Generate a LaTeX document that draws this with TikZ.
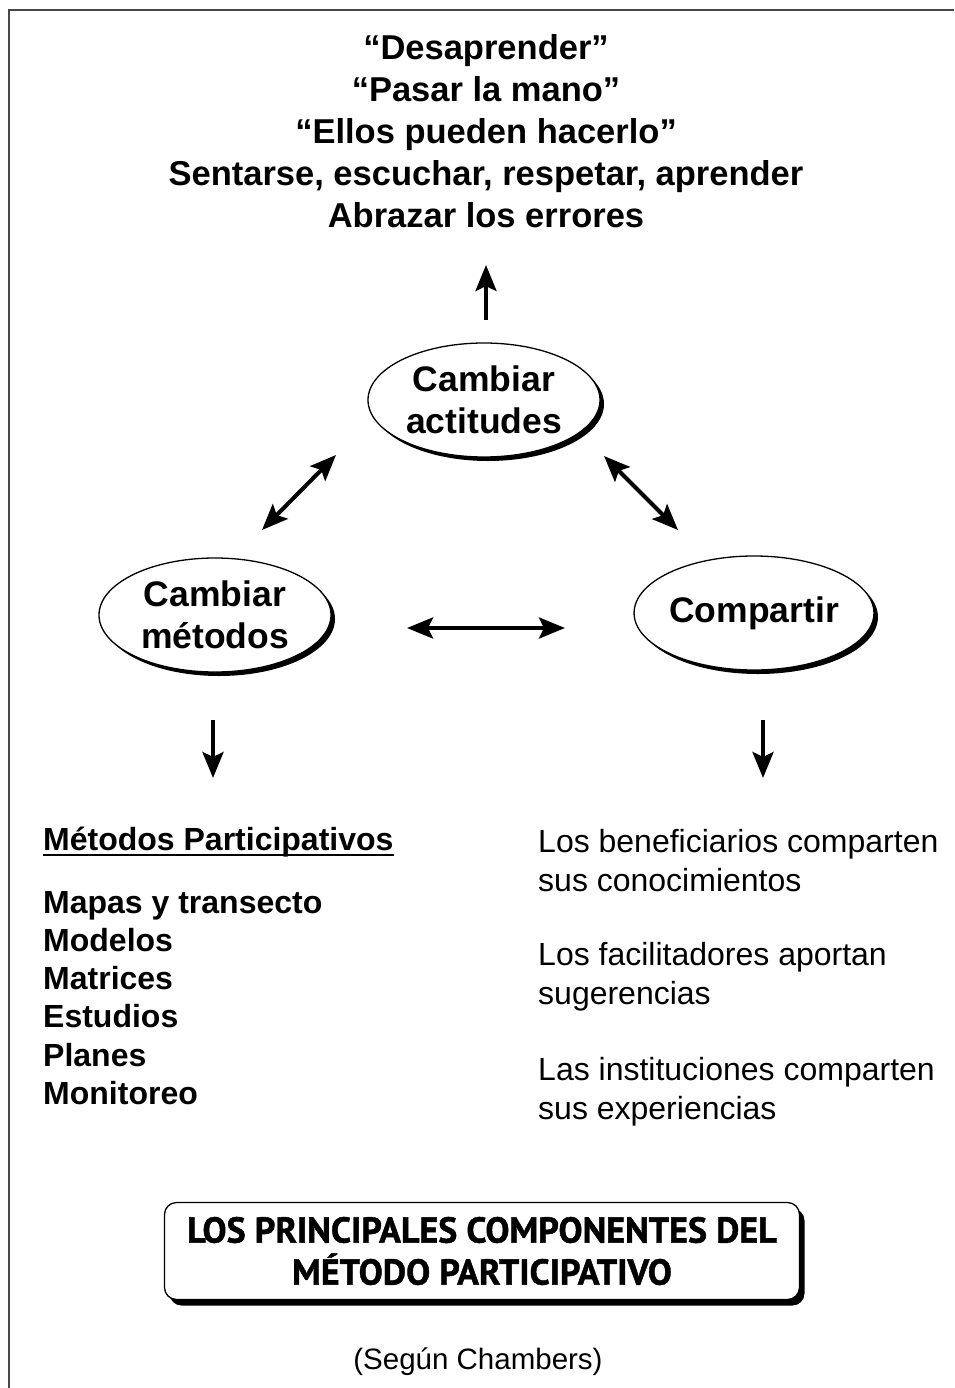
\documentclass[tikz,border=0pt]{standalone}
\usepackage{fontspec}
\setmainfont{Liberation Sans}
\newfontfamily\titlefont[FakeBold=1.2]{PT Sans Bold}
\usetikzlibrary{shapes.geometric,shadows,arrows.meta}

\begin{document}
\begin{tikzpicture}[x=1pt,y=-1pt,
  comp/.style={ellipse,draw,line width=1.3pt,fill=white,minimum width=232pt,
    minimum height=114pt,inner sep=0pt,align=center,
    font=\fontsize{35.5}{42}\selectfont\bfseries,
    drop shadow={shadow xshift=4pt,shadow yshift=-4pt,fill=black,opacity=1}},
  flecha/.style={line width=4pt,-{Stealth[length=26pt,width=21pt,inset=5pt]}},
  doble/.style={line width=4pt,
    {Stealth[length=26pt,width=21pt,inset=5pt]}-{Stealth[length=26pt,width=21pt,inset=5pt]}},
  lista/.style={anchor=base west,inner sep=0pt,font=\fontsize{32}{38}\selectfont\bfseries},
  texto/.style={anchor=west,inner sep=0pt,align=left,font=\fontsize{32}{39}\selectfont}]
\useasboundingbox (0,0) rectangle (954,1388);
\draw[black!72,line width=2.5pt] (9,1388) -- (9,10) -- (954,10);

\node[align=center,inner sep=0pt,font=\fontsize{34.5}{42}\selectfont\bfseries] (ideas) at (486,131)
  {``Desaprender''\\``Pasar la mano''\\``Ellos pueden hacerlo''\\
   Sentarse, escuchar, respetar, aprender\\Abrazar los errores};

\node[comp] (actitudes) at (484,400) {Cambiar\\actitudes};
\node[comp] (metodos) at (215,615) {Cambiar\\métodos};
\node[comp] (compartir) at (754,613) {Compartir};

\coordinate (a1) at (486,320);
\coordinate (a2) at (486,265);
\coordinate (b1) at (262,530);
\coordinate (b2) at (336,455);
\coordinate (c1) at (604,456);
\coordinate (c2) at (678,530);
\coordinate (d1) at (407,628);
\coordinate (d2) at (565,628);
\coordinate (e1) at (213,720);
\coordinate (e2) at (213,778);
\coordinate (f1) at (763,720);
\coordinate (f2) at (763,778);

\draw[flecha] (a1) -- (a2);
\draw[doble] (b1) -- (b2);
\draw[doble] (c1) -- (c2);
\draw[doble] (d1) -- (d2);
\draw[flecha] (e1) -- (e2);
\draw[flecha] (f1) -- (f2);

\node[lista] (mp) at (43,850) {Métodos Participativos};
\draw[line width=2pt] ([yshift=-5pt]mp.base west) -- ([yshift=-5pt]mp.base east);
\node[lista] (m1) at (43,913) {Mapas y transecto};
\node[lista] (m2) at (43,951) {Modelos};
\node[lista] (m3) at (43,989) {Matrices};
\node[lista] (m4) at (43,1027) {Estudios};
\node[lista] (m5) at (43,1066) {Planes};
\node[lista] (m6) at (43,1104) {Monitoreo};

\node[texto] (s1) at (538,861) {Los beneficiarios comparten\\sus conocimientos};
\node[texto] (s2) at (538,977) {Los facilitadores aportan\\sugerencias};
\node[texto] (s3) at (538,1092) {Las instituciones comparten\\sus experiencias};

\node[draw,rounded corners=12pt,line width=1.3pt,fill=white,minimum width=635pt,
  minimum height=97pt,align=center,
  font=\titlefont\fontsize{36}{42}\selectfont,
  drop shadow={shadow xshift=5pt,shadow yshift=-6pt,fill=black,opacity=1}] (titulo) at (482,1251)
  {LOS PRINCIPALES COMPONENTES DEL\\MÉTODO PARTICIPATIVO};

\node[font=\fontsize{29.5}{36}\selectfont] (fuente) at (478,1362) {(Según Chambers)};
\end{tikzpicture}
\end{document}
